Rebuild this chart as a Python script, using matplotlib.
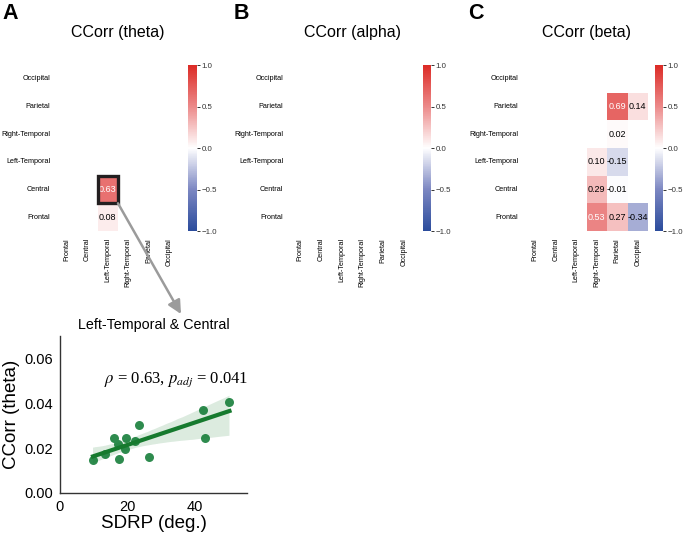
import numpy as np
import pandas as pd
import matplotlib
matplotlib.use("Agg")
import matplotlib.pyplot as plt
import seaborn as sns
from matplotlib.colors import LinearSegmentedColormap
from matplotlib.patches import Rectangle, ConnectionPatch

plt.rcParams["font.family"] = ["Liberation Sans", "DejaVu Sans"]
plt.rcParams["mathtext.fontset"] = "stix"

nan = np.nan
regions = ["Frontal", "Central", "Left-Temporal", "Right-Temporal", "Parietal", "Occipital"]

# rows = regions (Frontal first), columns = regions
theta = [
    [nan, nan, 0.08, nan, nan, nan],
    [nan, nan, 0.63, nan, nan, nan],
    [nan, nan, nan, nan, nan, nan],
    [nan, nan, nan, nan, nan, nan],
    [nan, nan, nan, nan, nan, nan],
    [nan, nan, nan, nan, nan, nan],
]
alpha = [[nan] * 6 for _ in range(6)]
beta = [
    [nan, nan, nan, 0.53, 0.27, -0.34],
    [nan, nan, nan, 0.29, -0.01, nan],
    [nan, nan, nan, 0.10, -0.15, nan],
    [nan, nan, nan, nan, 0.02, nan],
    [nan, nan, nan, nan, 0.69, 0.14],
    [nan, nan, nan, nan, nan, nan],
]
bands = ["theta", "alpha", "beta"]
letters = ["A", "B", "C"]

# scatter: SDRP vs CCorr(theta) for Left-Temporal & Central
sdrp = [9.8, 13.4, 15.9, 17.1, 17.6, 19.6, 19.4, 22.2, 23.5, 26.5, 42.4, 43.0, 50.3]
ccorr = [0.0145, 0.0175, 0.0245, 0.0217, 0.0153, 0.0247, 0.0194, 0.0232, 0.0303,
         0.0159, 0.0370, 0.0243, 0.0406]

W, H = 685, 534


def px(x0, y0, x1, y1):
    return [x0 / W, 1 - y1 / H, (x1 - x0) / W, (y1 - y0) / H]


cmap = LinearSegmentedColormap.from_list(
    "ccorr", ["#2b4c9c", "#7c87c2", "#ffffff", "#ec8a8a", "#dc2b26"])

fig = plt.figure(figsize=(6.85, 5.34), dpi=100)

heat_x = [(57, 179), (290, 414), (525, 648)]
cbar_x = [(188, 197), (423, 431), (655, 663)]
letter_x = [2, 234, 468]
heat_axes = []
for i, mat in enumerate([theta, alpha, beta]):
    ax = fig.add_axes(px(heat_x[i][0], 65, heat_x[i][1], 231))
    cax = fig.add_axes(px(cbar_x[i][0], 65, cbar_x[i][1], 231))
    df = pd.DataFrame(mat, index=regions, columns=regions).iloc[::-1]
    sns.heatmap(df, ax=ax, cbar_ax=cax, cmap=cmap, vmin=-1, vmax=1,
                annot=False, xticklabels=regions, yticklabels=df.index)
    vals = df.values
    for r in range(6):
        for c in range(6):
            v = vals[r, c]
            if not np.isnan(v):
                ax.text(c + 0.5, r + 0.5, f"{v:.2f}", ha="center", va="center",
                        fontsize=6.5, color="white" if abs(v) > 0.45 else "black")
    ax.tick_params(length=0, labelsize=5.2, pad=5)
    ax.set_xticklabels(regions, rotation=90)
    ax.set_yticklabels(df.index, rotation=0)
    ax.set_xlabel("")
    ax.set_ylabel("")
    ax.set_title(f"CCorr ({bands[i]})", fontsize=11.5, pad=20)
    cax.set_yticks([-1, -0.5, 0, 0.5, 1])
    cax.set_yticklabels(["\u22121.0", "\u22120.5", "0.0", "0.5", "1.0"])
    cax.tick_params(labelsize=5.7, length=2.2, width=0.7, pad=1.2, colors="#333333")
    fig.text(letter_x[i] / W, 1 - 3 / H, letters[i], fontsize=15.5, fontweight="bold",
             ha="left", va="top")
    heat_axes.append(ax)

# highlight box on the significant theta cell (Central x Left-Temporal)
axA = heat_axes[0]
axA.add_patch(Rectangle((2, 4), 1, 1, fill=False, edgecolor="#231f20", lw=2.4,
                        clip_on=False, zorder=5))

# scatter panel
ax_s = fig.add_axes(px(60, 336, 247, 493))
sns.regplot(x=np.array(sdrp), y=np.array(ccorr), ax=ax_s, ci=95, seed=0,
            scatter_kws={"s": 42, "color": "#2e8b4e", "alpha": 1, "linewidths": 0},
            line_kws={"color": "#167a2e", "lw": 3},
            color="#2e8b4e")
ax_s.set_xlim(0, 55.5)
ax_s.set_ylim(0, 0.07)
ax_s.set_xticks([0, 20, 40])
ax_s.set_yticks([0, 0.02, 0.04, 0.06])
ax_s.set_yticklabels(["0.00", "0.02", "0.04", "0.06"])
for s in ["top", "right"]:
    ax_s.spines[s].set_visible(False)
for s in ["left", "bottom"]:
    ax_s.spines[s].set_color("#333333")
    ax_s.spines[s].set_linewidth(1)
ax_s.tick_params(length=0, labelsize=10.5, pad=5)
ax_s.set_xlabel("SDRP (deg.)", fontsize=13.5, labelpad=1)
ax_s.set_ylabel("CCorr (theta)", fontsize=13.5, labelpad=3)
ax_s.set_title("Left-Temporal & Central", fontsize=10.3, pad=5)
ax_s.text(34.5, 0.0503, r"$\rho$ = 0.63, $p_{adj}$ = 0.041", fontsize=12,
          family="Liberation Serif", ha="center", va="center")

arrow = ConnectionPatch(xyA=(3, 5), coordsA=axA.transData,
                        xyB=(0.647, 1.14), coordsB=ax_s.transAxes,
                        arrowstyle="-|>", mutation_scale=20, color="#9b9b9b", lw=1.8)
fig.add_artist(arrow)

fig.savefig("out.png", dpi=100)
